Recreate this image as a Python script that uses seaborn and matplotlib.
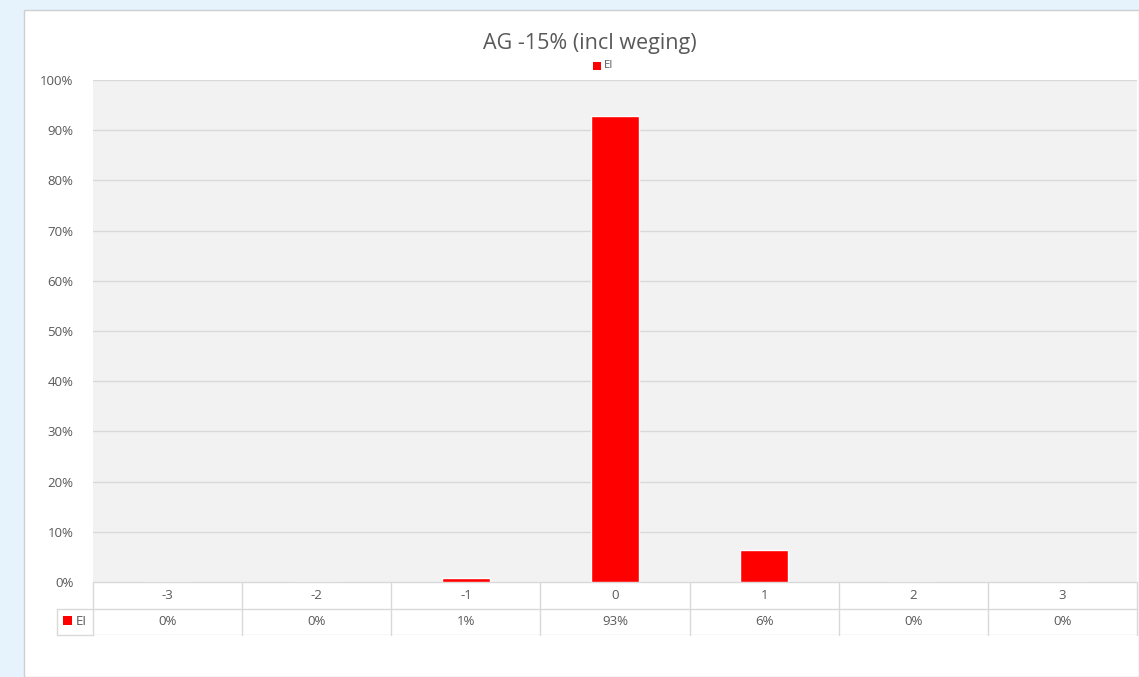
# Recreate "AG -15% (incl weging)" bar chart with data table underneath

import numpy as np
import pandas as pd
import matplotlib
matplotlib.use("Agg")
import matplotlib.pyplot as plt
import seaborn as sns
from matplotlib.patches import Rectangle

categories = ["-3", "-2", "-1", "0", "1", "2", "3"]
values = [0.0, 0.0, 0.008, 0.928, 0.064, 0.0, 0.0]
table_labels = ["0%", "0%", "1%", "93%", "6%", "0%", "0%"]
series_name = "EI"
title = "AG -15% (incl weging)"

df = pd.DataFrame({"cat": categories, "val": values})

sns.set_style("white")
plt.rcParams["font.family"] = ["Open Sans", "DejaVu Sans"]

txt = "#595959"
grid = "#D9D9D9"
red = "#FF0000"

fig = plt.figure(figsize=(11.39, 6.77), dpi=100)
fig.patch.set_facecolor("#E6F3FD")

# background axes holding the white chart area
bg = fig.add_axes([0, 0, 1, 1], zorder=-10)
bg.set_xlim(0, 1139)
bg.set_ylim(677, 0)
bg.axis("off")
bg.add_patch(Rectangle((24, 10), 1139 - 24, 667, facecolor="white",
                       edgecolor="#CFCFCF", linewidth=1))

ax = fig.add_axes([93 / 1139, 95 / 677, 1044 / 1139, 502 / 677])
ax.set_facecolor("#F2F2F2")
sns.barplot(data=df, x="cat", y="val", color=red, width=0.32, ax=ax,
            saturation=1, zorder=3)
ax.set_ylim(0, 1)
ax.set_xlim(-0.5, len(categories) - 0.5)
ax.set_yticks(np.arange(0, 1.01, 0.1))
ax.set_yticklabels([f"{int(round(t * 100))}%" for t in np.arange(0, 1.01, 0.1)],
                   color=txt, fontsize=9.5)
ax.yaxis.grid(True, color=grid, linewidth=1, zorder=0)
ax.set_axisbelow(True)
ax.tick_params(axis="y", length=0, pad=14)
ax.set_xticks([])
ax.set_xlabel("")
ax.set_ylabel("")
for s in ax.spines.values():
    s.set_visible(False)

# title and legend
fig.text(590 / 1139, 1 - 44 / 677, title, ha="center", va="center",
         fontsize=15.5, color=txt)
bg.add_patch(Rectangle((593, 62), 8, 8, facecolor=red, edgecolor="none"))
fig.text(604 / 1139, 1 - 66 / 677, series_name, ha="left", va="center",
         fontsize=8, color=txt)

# data table
tab = fig.add_axes([93 / 1139, 42 / 677, 1044 / 1139, 53 / 677])
tab.set_xlim(ax.get_xlim())
tab.set_ylim(0, 2)
tab.axis("off")
n = len(categories)
lw = 1
tab.plot([-0.5, n - 0.5], [2, 2], color=grid, lw=lw)
tab.plot([-0.5, n - 0.5], [1, 1], color=grid, lw=lw)
tab.plot([-0.5, n - 0.5], [0, 0], color=grid, lw=lw)
for i in range(n + 1):
    tab.plot([i - 0.5, i - 0.5], [0, 2], color=grid, lw=lw, clip_on=False)
for i, (c, v) in enumerate(zip(categories, table_labels)):
    tab.text(i, 1.5, c, ha="center", va="center", fontsize=9.5, color=txt)
    tab.text(i, 0.5, v, ha="center", va="center", fontsize=9.5, color=txt)
# legend key cell to the left
kx = -0.5 - 36 / 149
tab.plot([kx, -0.5], [1, 1], color=grid, lw=lw, clip_on=False)
tab.plot([kx, -0.5], [0, 0], color=grid, lw=lw, clip_on=False)
tab.plot([kx, kx], [0, 1], color=grid, lw=lw, clip_on=False)
tab.add_patch(Rectangle((kx + 6 / 149, 0.36), 9 / 149, 0.34, facecolor=red,
                        edgecolor="none", clip_on=False))
tab.text(kx + 19 / 149, 0.5, series_name, ha="left", va="center",
         fontsize=9.5, color=txt, clip_on=False)

fig.savefig("out.png", dpi=100, facecolor=fig.get_facecolor())
